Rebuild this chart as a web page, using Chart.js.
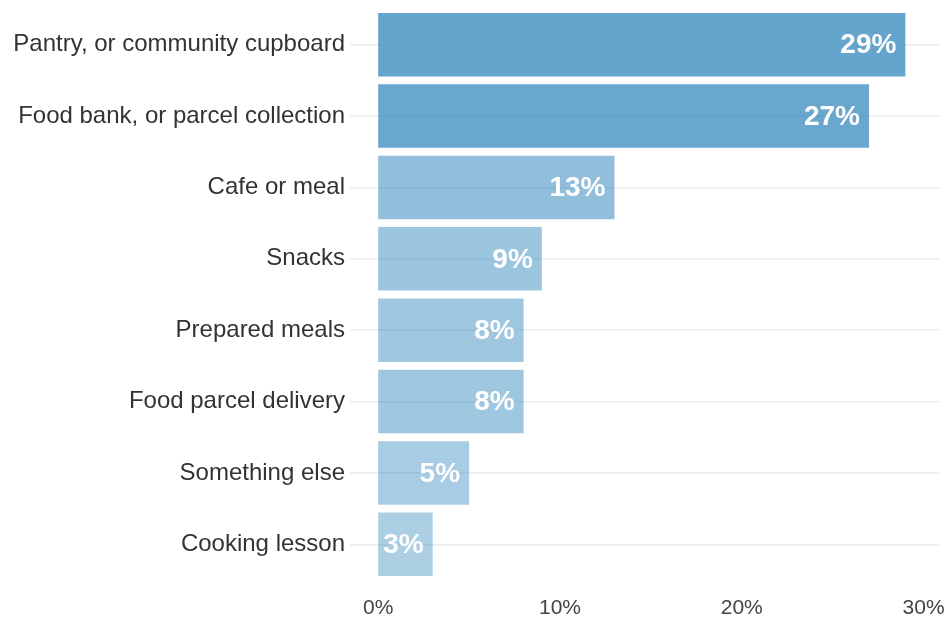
<!DOCTYPE html>
<html>
<head>
<meta charset="utf-8">
<script src="https://cdn.jsdelivr.net/npm/chart.js@4.4.0/dist/chart.umd.min.js"></script>
<style>
  html, body { margin: 0; padding: 0; background: #fff; }
  #wrap { width: 945px; height: 622px; }
</style>
</head>
<body>
<div id="wrap"><canvas id="chart" width="945" height="622"></canvas></div>
<script>
const categories = [
    'Pantry, or community cupboard',
    'Food bank, or parcel collection',
    'Cafe or meal',
    'Snacks',
    'Prepared meals',
    'Food parcel delivery',
    'Something else',
    'Cooking lesson'
];
const shares = [29, 27, 13, 9, 8, 8, 5, 3];
const xTicks = [0, 10, 20, 30];

// bars get stronger as the share grows
const barColors = shares.map(v => `rgba(52, 136, 189, ${(0.36 + 0.014 * v).toFixed(3)})`);

// white percentage inside the end of each bar
const barLabels = {
    id: 'barLabels',
    afterDatasetsDraw(chart) {
        const ctx = chart.ctx;
        const meta = chart.getDatasetMeta(0);
        ctx.save();
        ctx.font = 'bold 28px "Liberation Sans", Arial, sans-serif';
        ctx.fillStyle = '#ffffff';
        ctx.textAlign = 'right';
        ctx.textBaseline = 'middle';
        meta.data.forEach((bar, i) => {
            ctx.fillText(shares[i] + '%', bar.x - 9, bar.y + 1);
        });
        ctx.restore();
    }
};

const ctx = document.getElementById('chart').getContext('2d');
new Chart(ctx, {
    type: 'bar',
    data: {
        labels: categories,
        datasets: [{
            data: shares,
            backgroundColor: barColors,
            borderWidth: 0,
            categoryPercentage: 1,
            barPercentage: 0.89
        }]
    },
    options: {
        indexAxis: 'y',
        responsive: false,
        animation: false,
        layout: { padding: { top: 9, right: 6, left: 0, bottom: 0 } },
        plugins: {
            legend: { display: false },
            tooltip: { enabled: false }
        },
        scales: {
            x: {
                min: -1.55,
                max: 30.85,
                afterBuildTicks: scale => {
                    scale.ticks = xTicks.map(v => ({ value: v }));
                },
                afterFit: scale => {
                    scale.height = 42;
                    scale.paddingLeft = 0;
                    scale.paddingRight = 0;
                },
                grid: { display: false },
                border: { display: false },
                ticks: {
                    padding: 8,
                    color: '#444444',
                    font: { family: '"Liberation Sans", Arial, sans-serif', size: 21 },
                    callback: v => v + '%'
                }
            },
            y: {
                afterFit: scale => {
                    scale.width = 350;
                    scale.paddingTop = 0;
                    scale.paddingBottom = 0;
                },
                grid: {
                    offset: false,
                    drawTicks: false,
                    color: '#ebebeb',
                    lineWidth: 1.5
                },
                border: { display: false },
                ticks: {
                    padding: 5,
                    color: '#333333',
                    font: { family: '"Liberation Sans", Arial, sans-serif', size: 24 }
                }
            }
        }
    },
    plugins: [barLabels]
});
</script>
</body>
</html>
